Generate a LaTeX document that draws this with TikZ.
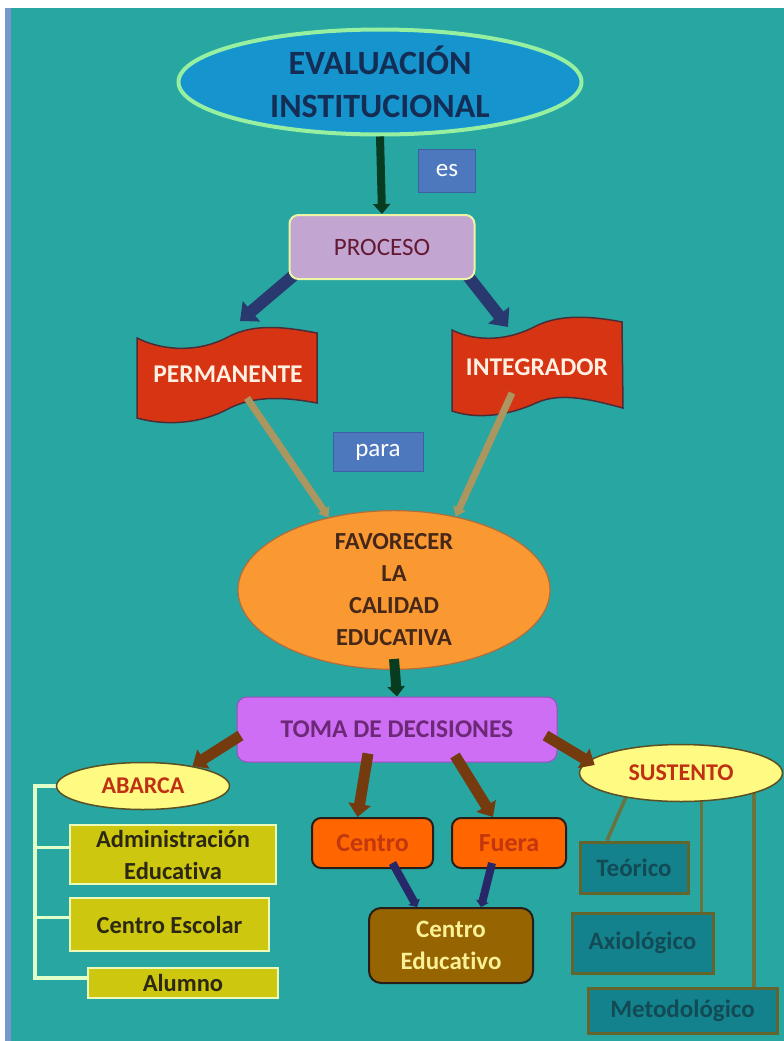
\documentclass[tikz,border=0pt]{standalone}
\usepackage{fontspec}
\setmainfont{Carlito}[Ligatures=NoCommon]
\usetikzlibrary{arrows.meta,shapes.geometric}
\pgfdeclarelayer{back}
\pgfdeclarelayer{links}
\pgfsetlayers{back,links,main}
\newcommand\setfs[2]{\fontsize{#1}{#2}\selectfont}

% palette
\definecolor{bgteal}{RGB}{40,166,162}
\definecolor{edgeblue}{RGB}{120,150,205}
\definecolor{evalblue}{RGB}{22,148,206}
\definecolor{evalrim}{RGB}{150,240,160}
\definecolor{evaltext}{RGB}{20,45,85}
\definecolor{arrowgreen}{RGB}{8,60,32}
\definecolor{tagblue}{RGB}{78,120,190}
\definecolor{tagrim}{RGB}{60,95,165}
\definecolor{lavender}{RGB}{195,165,210}
\definecolor{palerim}{RGB}{235,245,165}
\definecolor{maroon}{RGB}{100,25,50}
\definecolor{navy}{RGB}{42,56,112}
\definecolor{flagred}{RGB}{215,52,20}
\definecolor{flagrim}{RGB}{75,45,55}
\definecolor{flagtext}{RGB}{255,240,225}
\definecolor{pole}{RGB}{172,150,95}
\definecolor{orangefill}{RGB}{250,152,50}
\definecolor{orangerim}{RGB}{175,110,60}
\definecolor{darkbrowntext}{RGB}{70,40,25}
\definecolor{violetfill}{RGB}{205,110,245}
\definecolor{violetrim}{RGB}{150,80,190}
\definecolor{violettext}{RGB}{110,40,120}
\definecolor{arrowbrown}{RGB}{118,58,15}
\definecolor{paleyellow}{RGB}{255,250,130}
\definecolor{ovalrim}{RGB}{90,80,35}
\definecolor{redtext}{RGB}{192,48,20}
\definecolor{treeline}{RGB}{225,255,200}
\definecolor{olivebox}{RGB}{205,200,15}
\definecolor{oliverim}{RGB}{235,250,185}
\definecolor{boxtext}{RGB}{45,40,20}
\definecolor{orangebox}{RGB}{255,102,0}
\definecolor{orangeboxtext}{RGB}{195,55,15}
\definecolor{darkrim}{RGB}{40,30,25}
\definecolor{edubrown}{RGB}{150,100,0}
\definecolor{edutext}{RGB}{250,240,150}
\definecolor{inkblue}{RGB}{40,40,105}
\definecolor{olivelinecol}{RGB}{105,115,60}
\definecolor{tealbox}{RGB}{20,130,140}
\definecolor{tealrim}{RGB}{100,100,45}
\definecolor{tealtext}{RGB}{18,75,85}

\begin{document}
\begin{tikzpicture}[x=1pt,y=-1pt,
  every node/.style={inner sep=0pt, align=center},
  mainoval/.style={ellipse, draw=evalrim, line width=4pt, fill=evalblue, text=evaltext, font=\setfs{34}{43}\bfseries},
  tag/.style={rectangle, draw=tagrim, line width=1pt, fill=tagblue, text=white, font=\setfs{25}{30}},
  procbox/.style={rectangle, rounded corners=9pt, draw=palerim, line width=2pt, fill=lavender, text=maroon, font=\setfs{25}{30}},
  flagshape/.style={fill=flagred, draw=flagrim, line width=1.5pt},
  flagtextstyle/.style={text=flagtext, font=\setfs{25.5}{30}\bfseries},
  favoval/.style={ellipse, draw=orangerim, line width=1.2pt, fill=orangefill, text=darkbrowntext, font=\setfs{24.5}{32}\bfseries},
  tomabox/.style={rectangle, rounded corners=10pt, draw=violetrim, line width=1pt, fill=violetfill, text=violettext, font=\setfs{25.5}{30}\bfseries},
  tagoval/.style={ellipse, draw=ovalrim, line width=1.5pt, fill=paleyellow, text=redtext, font=\setfs{24}{30}\bfseries},
  abox/.style={rectangle, draw=oliverim, line width=2.5pt, fill=olivebox, text=boxtext, font=\setfs{24.5}{32}\bfseries},
  obox/.style={rectangle, rounded corners=9pt, draw=darkrim, line width=2pt, fill=orangebox, text=orangeboxtext, font=\setfs{26}{30}\bfseries},
  ebox/.style={rectangle, rounded corners=12pt, draw=darkrim, line width=2pt, fill=edubrown, text=edutext, font=\setfs{25}{32}\bfseries},
  sbox/.style={rectangle, draw=tealrim, line width=3pt, fill=tealbox, text=tealtext, font=\setfs{25}{30}\bfseries},
  greenarr/.style={draw=arrowgreen, line width=8pt, -{Triangle[width=17pt,length=10pt]}},
  navyarr/.style={draw=navy, line width=12pt, -{Triangle[width=26pt,length=15pt]}},
  polearr/.style={draw=pole, line width=7pt, -{Triangle[width=13pt,length=9pt]}},
  brownarr/.style={draw=arrowbrown, line width=11pt, -{Triangle[width=22pt,length=13pt]}},
  inkarr/.style={draw=inkblue, line width=8pt, -{Triangle[width=13pt,length=6pt]}},
  tree/.style={draw=treeline, line width=3.5pt},
  stem/.style={draw=olivelinecol, line width=3.5pt}]

\useasboundingbox (0,0) rectangle (784,1041);

% page background
\begin{pgfonlayer}{back}
  \fill[white] (0,0) rectangle (784,1041);
  \fill[edgeblue] (5,8) rectangle (11,1041);
  \fill[bgteal] (11,8) rectangle (784,1041);
\end{pgfonlayer}

% title and process
\node[mainoval, minimum width=403pt, minimum height=105pt] (eval) at (380,82) {EVALUACIÓN\\INSTITUCIONAL};
\node[tag, minimum width=57pt, minimum height=43pt] (es) at (447,171) {es};
\node[procbox, minimum width=185pt, minimum height=64pt] (proc) at (382,247) {PROCESO};

% waving flags
\filldraw[flagshape] (137,338) .. controls (165,352) and (200,352) .. (228,337)
  .. controls (256,322) and (290,328) .. (317,333) -- (317,403)
  .. controls (290,398) and (256,394) .. (228,409)
  .. controls (200,424) and (165,426) .. (137,418) -- cycle;
\node[flagtextstyle] (perm) at (228,374) {PERMANENTE};
\filldraw[flagshape] (452,330) .. controls (478,343) and (510,340) .. (536,326)
  .. controls (562,313) and (596,317) .. (622,322) -- (623,408)
  .. controls (596,401) and (562,391) .. (536,403)
  .. controls (510,415) and (478,420) .. (452,411) -- cycle;
\node[flagtextstyle] (integ) at (537,367) {INTEGRADOR};
\coordinate (permtop) at (240,321);
\coordinate (integtop) at (508,327);
\coordinate (permpole) at (247,398);
\coordinate (integpole) at (512,393);

\node[tag, minimum width=90pt, minimum height=39pt] (para) at (378,452) {para};
\node[favoval, minimum width=312pt, minimum height=145pt] (fav) at (394,590) {FAVORECER\\LA\\CALIDAD\\EDUCATIVA};
\node[tomabox, minimum width=320pt, minimum height=65pt] (toma) at (397,729.5) {TOMA DE DECISIONES};

% left branch
\node[tagoval, minimum width=173pt, minimum height=47pt] (abarca) at (143,786) {ABARCA};
\node[abox, minimum width=206pt, minimum height=59pt] (admin) at (173,854.5) {Administración\\Educativa};
\node[abox, minimum width=199pt, minimum height=53pt] (escolar) at (169.5,924.5) {Centro Escolar};
\node[abox, minimum width=190pt, minimum height=30pt] (alum) at (183,983) {Alumno};
\coordinate (tk) at (35,786);

% middle branch
\node[obox, minimum width=121pt, minimum height=50pt] (centro) at (372.5,843) {Centro};
\node[obox, minimum width=114pt, minimum height=50pt] (fuera) at (509,843) {Fuera};
\node[ebox, minimum width=164pt, minimum height=75pt] (edu) at (451,945.5) {Centro\\Educativo};

% right branch
\node[tagoval, minimum width=203pt, minimum height=57pt] (sust) at (681,773) {SUSTENTO};
\node[sbox, minimum width=108pt, minimum height=51pt] (teo) at (634,867.5) {Teórico};
\node[sbox, minimum width=141pt, minimum height=60pt] (axio) at (642.5,943) {Axiológico};
\node[sbox, minimum width=189pt, minimum height=45pt] (meto) at (682.5,1010.5) {Metodológico};
\coordinate (axtop) at ([xshift=59pt]axio.north);
\coordinate (mttop) at ([xshift=71.5pt]meto.north);

% connectors running beneath the shapes
\begin{pgfonlayer}{links}
  \draw[navyarr] ([shift={(8pt,7pt)}]proc.south west) -- (permtop);
  \draw[navyarr] ([shift={(-10pt,7pt)}]proc.south east) -- (integtop);
  \draw[stem] (sust.204) -- ([xshift=-27pt]teo.north);
  \draw[stem] (axtop |- sust.center) -- (axtop);
  \draw[stem] (mttop |- sust.center) -- (mttop);
  \draw[tree] (abarca.west) -- (tk) |- ([yshift=7pt]admin.west);
  \draw[tree] (tk) |- ([yshift=7pt]escolar.west);
  \draw[tree] (tk) |- ([yshift=5pt]alum.west);
\end{pgfonlayer}

% connectors drawn over the shapes
\draw[greenarr] (eval.south) -- (proc.north);
\draw[polearr] (permpole) -- (fav.132);
\draw[polearr] (integpole) -- (fav.50);
\draw[greenarr, line width=10pt] ([yshift=11pt]fav.south) -- (toma.north);
\draw[brownarr] ([shift={(4pt,-6pt)}]toma.west) -- (abarca.22);
\draw[brownarr] ([shift={(-29pt,9pt)}]toma.south) -- ([xshift=-15pt]centro.north);
\draw[brownarr] ([shift={(58pt,7pt)}]toma.south) -- ([xshift=-16pt]fuera.north);
\draw[brownarr] ([shift={(-12pt,-6pt)}]toma.east) -- ([shift={(16pt,8pt)}]sust.west);
\draw[inkarr] ([shift={(20pt,6pt)}]centro.south) -- ([xshift=-34pt]edu.north);
\draw[inkarr] ([shift={(-17pt,6pt)}]fuera.south) -- ([xshift=30pt]edu.north);
\end{tikzpicture}
\end{document}
